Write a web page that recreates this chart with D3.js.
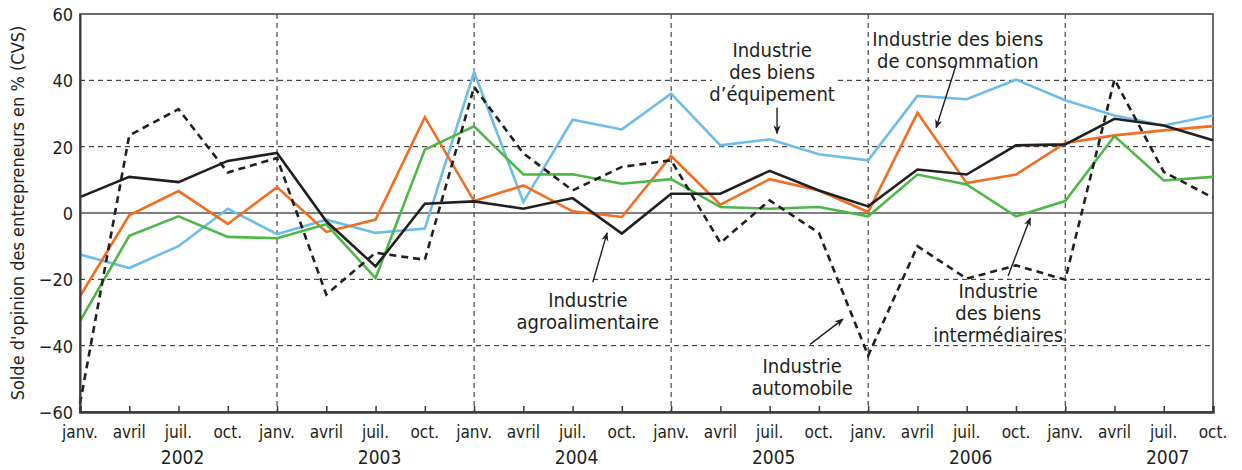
<!DOCTYPE html>
<html>
<head>
<meta charset="utf-8">
<script src="https://cdn.jsdelivr.net/npm/d3@7"></script>
<style>
  html, body { margin: 0; padding: 0; background: #fff; }
  svg { display: block; }
  text { font-family: "Liberation Sans Narrow", "DejaVu Sans Condensed", "Roboto Condensed", sans-serif; fill: #231f20; }
</style>
</head>
<body>
<div id="chart"></div>
<script>
// quarterly points, janv. 2002 .. oct. 2007
var quarters = ["janv.", "avril", "juil.", "oct."];
var years = ["2002", "2003", "2004", "2005", "2006", "2007"];
var yTicks = [-60, -40, -20, 0, 20, 40, 60];

// Industrie agroalimentaire (black solid)
var agro = [4.8, 10.9, 9.3, 15.7, 18.1, -2.5, -16.1, 2.8, 3.5, 1.3, 4.5, -6.2,
            5.8, 5.8, 12.7, 6.8, 2.0, 13.1, 11.6, 20.4, 20.7, 28.4, 26.4, 21.9];
// Industrie automobile (black dashed)
var auto = [-57.5, 23.4, 31.3, 12.2, 16.6, -24.6, -12.0, -14.1, 38.0, 18.0, 6.8, 13.9,
            15.9, -9.0, 3.8, -6.0, -43.0, -10.0, -19.8, -15.8, -20.1, 40.3, 12.4, 4.6];
// Industrie des biens d'équipement (blue)
var equip = [-12.5, -16.6, -10.0, 1.3, -6.4, -2.0, -6.0, -4.7, 42.5, 3.3, 28.1, 25.2,
             36.0, 20.4, 22.2, 17.7, 15.9, 35.3, 34.3, 40.2, 34.0, 29.4, 26.4, 29.4];
// Industrie des biens de consommation (orange)
var conso = [-25.1, -0.7, 6.6, -3.3, 7.8, -5.7, -2.0, 28.9, 3.6, 8.3, 0.5, -1.2,
             17.2, 2.5, 10.2, 6.8, 0.3, 30.2, 9.0, 11.6, 21.1, 23.4, 24.9, 26.2];
// Industrie des biens intermédiaires (green)
var inter = [-32.6, -6.9, -1.0, -7.2, -7.6, -3.4, -19.6, 19.1, 26.1, 11.6, 11.7, 8.8,
             10.2, 1.8, 1.3, 1.8, -1.0, 11.6, 8.6, -1.0, 3.6, 23.2, 9.8, 10.9];

var series = [
  { name: "equip", values: equip, color: "#6cbde9", dash: null },
  { name: "conso", values: conso, color: "#f26c22", dash: null },
  { name: "inter", values: inter, color: "#4db848", dash: null },
  { name: "agro", values: agro, color: "#231f20", dash: null },
  { name: "auto", values: auto, color: "#231f20", dash: "7,5" }
];

// annotations: anchor (quarter index, value) of first baseline, arrow tail/head
var notes = [
  { lines: ["Industrie", "des biens", "d\u2019équipement"], x: 14.05, y: 46.9, from: [14.15, 31.7], to: [14.15, 24.0] },
  { lines: ["Industrie des biens", "de consommation"], x: 17.82, y: 50.5, from: [17.78, 44.4], to: [17.38, 25.7] },
  { lines: ["Industrie", "agroalimentaire"], x: 10.31, y: -28.4, from: [10.41, -20.9], to: [10.7, -6.0] },
  { lines: ["Industrie", "automobile"], x: 14.66, y: -48.1, from: [14.82, -39.6], to: [15.49, -32.0] },
  { lines: ["Industrie", "des biens", "intermédiaires"], x: 18.64, y: -25.7, from: [18.84, -19.0], to: [19.29, -1.5] }
];

var W = 1242, H = 470;
var m = { left: 80, right: 29, top: 14, bottom: 58 };
var n = years.length * quarters.length;

var x = d3.scaleLinear().domain([0, n - 1]).range([m.left, W - m.right]);
var y = d3.scaleLinear().domain([-60, 60]).range([H - m.bottom, m.top]);

var svg = d3.select("#chart").append("svg").attr("width", W).attr("height", H);

svg.append("defs").append("marker")
  .attr("id", "arrow").attr("viewBox", "0 0 10 10").attr("refX", 9).attr("refY", 5)
  .attr("markerWidth", 9).attr("markerHeight", 9).attr("markerUnits", "userSpaceOnUse")
  .attr("orient", "auto")
  .append("path").attr("d", "M0,1 L10,5 L0,9 L3,5 Z").attr("fill", "#231f20");

// horizontal grid (dashed), gap in the 40 line for the label
var grid = svg.append("g");
[-40, -20, 20, 40].forEach(function (v) {
  var segs = v === 40 ? [[x(0), 712], [838, x(n - 1)]] : [[x(0), x(n - 1)]];
  segs.forEach(function (s) {
    grid.append("line").attr("x1", s[0]).attr("x2", s[1]).attr("y1", y(v)).attr("y2", y(v))
      .attr("stroke", "#231f20").attr("stroke-width", 1).attr("stroke-dasharray", "5,4");
  });
});
// vertical year separators
d3.range(1, years.length).forEach(function (k) {
  grid.append("line").attr("x1", x(k * 4)).attr("x2", x(k * 4))
    .attr("y1", y(60)).attr("y2", y(-60))
    .attr("stroke", "#231f20").attr("stroke-width", 1).attr("stroke-dasharray", "5,4");
});
// zero line
grid.append("line").attr("x1", x(0)).attr("x2", x(n - 1)).attr("y1", y(0)).attr("y2", y(0))
  .attr("stroke", "#555").attr("stroke-width", 1.5);

// frame
svg.append("rect").attr("x", x(0)).attr("y", y(60))
  .attr("width", x(n - 1) - x(0)).attr("height", y(-60) - y(60))
  .attr("fill", "none").attr("stroke", "#3a3a3a").attr("stroke-width", 1.5);

// lines
var line = d3.line().x(function (d, i) { return x(i); }).y(function (d) { return y(d); });
svg.append("g").selectAll("path").data(series).join("path")
  .attr("d", function (s) { return line(s.values); })
  .attr("fill", "none")
  .attr("stroke", function (s) { return s.color; })
  .attr("stroke-width", 2.6)
  .attr("stroke-linejoin", "miter")
  .attr("stroke-dasharray", function (s) { return s.dash; });

// y axis
var yAxis = svg.append("g").attr("transform", "translate(" + x(0) + ",0)")
  .call(d3.axisLeft(y).tickValues(yTicks).tickSize(0).tickPadding(7));
yAxis.select(".domain").attr("stroke", "#3a3a3a").attr("stroke-width", 2);
yAxis.selectAll("text").style("font-size", "18px").attr("dy", "0.36em");

// x axis
var labels = d3.range(n).map(function (i) { return quarters[i % 4]; });
var xAxis = svg.append("g").attr("transform", "translate(0," + y(-60) + ")")
  .call(d3.axisTop(x).tickValues(d3.range(n)).tickSize(6).tickFormat(""));
xAxis.select(".domain").attr("stroke", "#3a3a3a").attr("stroke-width", 2.5);
xAxis.selectAll(".tick line").attr("stroke", "#3a3a3a").attr("stroke-width", 1.5);

svg.append("g").selectAll("text").data(labels).join("text")
  .attr("x", function (d, i) { return x(i); })
  .attr("y", y(-60) + 26)
  .attr("text-anchor", "middle")
  .style("font-size", "17px")
  .text(function (d) { return d; });

svg.append("g").selectAll("text").data(years).join("text")
  .attr("x", function (d, k) { return x(k * 4 + 2) + 4; })
  .attr("y", y(-60) + 52)
  .attr("text-anchor", "middle")
  .style("font-size", "19px")
  .text(function (d) { return d; });

// y title
svg.append("text")
  .attr("transform", "translate(24," + y(0) + ") rotate(-90)")
  .attr("text-anchor", "middle")
  .style("font-size", "18px")
  .text("Solde d'opinion des entrepreneurs en % (CVS)");

// annotations
var ann = svg.append("g");
notes.forEach(function (a) {
  var t = ann.append("text").attr("text-anchor", "middle").style("font-size", "20px");
  a.lines.forEach(function (l, k) {
    t.append("tspan").attr("x", x(a.x)).attr("y", y(a.y) + k * 22).text(l);
  });
  ann.append("line")
    .attr("x1", x(a.from[0])).attr("y1", y(a.from[1]))
    .attr("x2", x(a.to[0])).attr("y2", y(a.to[1]))
    .attr("stroke", "#231f20").attr("stroke-width", 1.4)
    .attr("marker-end", "url(#arrow)");
});
</script>
</body>
</html>
